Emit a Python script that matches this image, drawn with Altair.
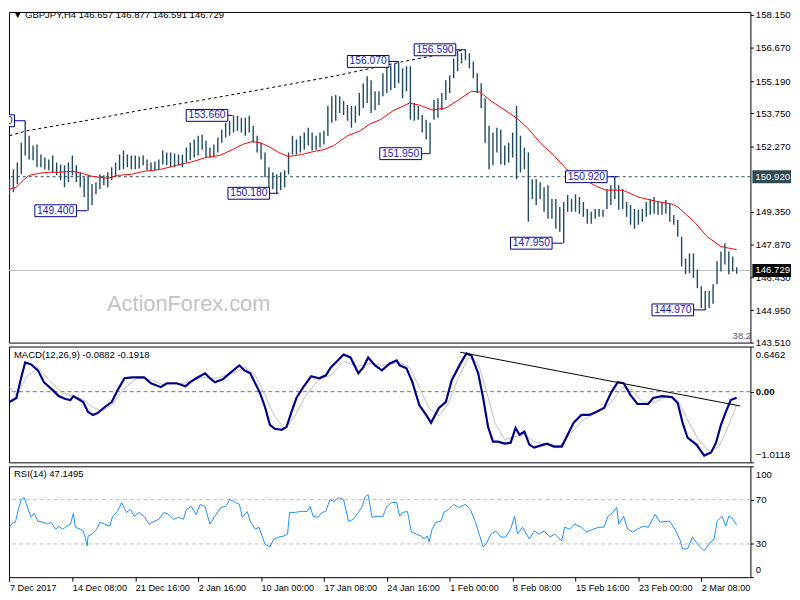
import altair as alt
import pandas as pd

# ---------------- data ----------------
bar_high = [150.81,151.25,151.56,152.44,153.42,152.75,152.31,152.36,151.91,151.78,
            151.69,151.87,151.56,151.47,151.43,151.56,151.87,151.43,151.12,150.90,
            150.98,150.59,150.67,151.03,150.98,151.12,151.34,151.56,151.91,152.09,
            151.91,151.87,151.87,151.82,151.87,151.69,151.56,151.60,151.69,152.09,
            152.00,152.00,151.96,151.91,151.91,152.22,152.44,152.58,152.75,152.80,
            152.53,152.22,152.36,152.67,153.02,153.33,153.42,153.66,153.64,153.55,
            153.55,153.64,153.20,152.75,152.44,152.00,151.34,151.12,151.03,151.12,
            151.21,152.00,152.75,152.58,152.75,152.89,153.11,152.89,152.75,152.89,
            152.97,154.08,154.52,154.57,154.52,154.30,154.12,154.08,154.08,154.66,
            155.10,155.41,155.23,154.74,154.74,155.54,155.85,155.89,155.98,156.07,
            155.76,155.85,155.85,154.21,154.08,153.68,153.46,153.33,154.35,154.43,
            154.66,155.23,155.45,156.20,156.56,156.43,156.59,156.43,156.07,155.54,
            155.10,154.43,153.20,152.89,153.11,153.02,152.31,152.44,152.89,154.08,
            152.75,152.22,152.00,150.81,150.81,150.67,150.45,150.54,149.92,149.92,
            149.57,149.79,150.10,149.92,150.14,150.01,149.79,149.48,149.35,149.48,
            149.48,149.44,150.36,150.54,150.92,150.54,150.36,149.79,149.66,149.48,
            149.44,149.48,149.79,149.92,150.01,149.79,149.79,149.88,149.70,149.21,
            148.99,148.24,147.27,147.49,147.49,146.78,146.03,145.81,145.81,146.12,
            147.14,147.58,147.95,147.58,147.36,146.88]
bar_low = [150.14,150.23,150.59,151.03,151.87,151.69,151.65,151.34,151.34,151.25,
           151.21,151.12,150.98,150.76,150.45,150.68,150.98,150.68,150.45,150.01,
           149.40,149.66,150.14,150.37,150.54,150.45,150.76,150.90,151.21,151.25,
           151.34,151.25,151.25,151.29,151.43,151.21,151.21,151.21,151.25,151.47,
           151.43,151.34,151.34,151.43,151.34,151.56,151.65,151.78,151.87,152.13,
           151.78,151.78,151.78,152.00,152.44,152.67,152.75,152.89,152.97,152.89,
           152.75,152.89,152.44,152.00,151.69,150.90,150.23,150.37,150.18,150.32,
           150.45,151.03,151.91,151.91,152.00,152.13,152.31,152.09,152.13,152.22,
           152.36,152.75,153.33,153.42,153.77,153.68,153.42,153.11,153.33,153.64,
           153.99,154.21,153.77,153.90,154.12,154.52,154.66,154.79,154.88,155.10,
           154.43,154.74,153.46,153.42,153.46,152.89,152.58,151.95,153.46,153.55,
           153.90,154.35,154.66,155.32,155.63,155.98,156.12,155.76,155.32,154.66,
           153.99,152.44,151.25,151.43,152.00,151.47,151.43,151.56,151.78,150.81,
           151.12,151.25,148.91,149.92,149.66,149.92,149.35,149.04,149.04,148.60,
           148.46,147.95,149.35,149.35,149.35,149.26,149.13,148.82,148.82,149.04,
           149.13,149.13,149.48,149.66,149.92,149.44,149.48,149.13,148.77,148.60,
           148.77,148.91,149.13,149.22,149.26,149.22,149.22,149.26,148.91,148.77,
           148.24,146.91,146.56,146.61,146.39,145.94,145.06,144.97,145.06,145.24,
           146.12,146.69,147.00,146.56,146.69,146.59]
bar_idx = list(range(0, 2 * len(bar_high), 2))

ma_idx = [0,3.5,7,10,15,20,25,32,37,42,45,50,55,62,68.5,77,85,93.5,100,107,
          113.5,118.5,123.5,127.5,132,137,142,148.5,155,160,165,172,178.5,183.5,188.5,195,203.5,208.5,215,222,
          228.5,235,239.5,245,252,258.5,263.5,270,277,283.5,292,298.5,303.5,312,320,328.5,337,340,348.5,355,
          362,367,370]
ma_val = [150.36,150.45,150.76,150.98,151.07,151.12,151.12,151.16,151.07,150.94,
          150.90,150.85,150.98,151.03,151.16,151.25,151.43,151.60,151.78,151.87,
          152.13,152.36,152.49,152.44,152.27,152.00,151.82,151.91,152.05,152.13,
          152.31,152.75,152.97,153.28,153.46,153.86,154.21,154.12,153.90,153.99,
          154.35,154.74,154.70,154.30,153.90,153.51,153.11,152.44,151.87,151.25,
          150.81,150.50,150.32,150.32,150.01,149.83,149.70,149.57,148.90,148.24,
          147.80,147.71,147.67]

long_idx = [0, 8.5, 38.5, 65, 98.5, 132, 165, 198.5, 213.5, 227, 232]
long_val = [152.75, 152.97, 153.42, 153.86, 154.35, 154.88, 155.41, 156.03, 156.29, 156.51, 156.60]

lbl_text = ["153.420","153.660","149.400","150.180","156.070","151.950","156.590","147.950","150.920","144.970"]
lbl_price = [153.42,153.66,149.40,150.18,156.07,151.95,156.59,147.95,150.92,144.97]
lbl_box_i = [-8, 100.5, 23.5, 121.75, 182.5, 199, 216.5, 265.5, 293.5, 337.5]
lbl_bar_i = [8, 113.5, 39.5, 137, 198, 214, 232, 281.5, 309.5, 354]

price_ticks = [158.15,156.67,155.19,153.75,152.27,149.35,147.87,146.43,144.95,143.51]
mark_levels = [150.92, 146.729]
mark_texts = ["150.920", "146.729"]
mark_fill = ["#2e4a52", "#000000"]

macd_idx = [0,3.5,6,8,11,14.5,17.5,22,25,28.5,
            31,32.5,35,37.5,40,42.5,45,48.5,52,55,
            58.5,62.5,68.5,72,77,80,85,89.5,92,95,
            99.5,102,104.5,108.5,112,117,119.5,122.5,125,127.5,
            130,132.5,135,138.5,141,143.5,146,149.5,153.5,157.5,
            161,163.5,167,170,173.5,177.5,180,182.5,186,189.5,
            193.5,197,198.5,202,205,208.5,212,214.5,218.5,222,
            225,229.5,232.5,235,238.5,241,243.5,246,248.5,252,
            255,257.5,259.5,262,264.5,267,270,273.5,277,281,
            283.5,287,291,295,298.5,302.5,306,309.5,312.5,316,
            319.5,325,327.5,332,337,340,342.5,345,349.5,353.5,
            357,359.5,362,364.5,367,370]
macd_val = [-0.148,-0.091,0.206,0.419,0.391,0.306,0.136,0.022,-0.063,-0.105,
            -0.120,-0.063,-0.105,-0.148,-0.290,-0.333,-0.304,-0.219,-0.148,0.022,
            0.192,0.206,0.206,0.121,0.065,0.121,0.121,0.079,0.136,0.192,
            0.263,0.192,0.136,0.178,0.263,0.377,0.306,0.263,0.121,-0.020,
            -0.219,-0.474,-0.531,-0.545,-0.503,-0.290,-0.091,0.065,0.221,0.192,
            0.235,0.348,0.448,0.533,0.490,0.263,0.348,0.490,0.377,0.306,
            0.405,0.448,0.377,0.334,0.136,-0.191,-0.333,-0.446,-0.233,-0.148,
            0.164,0.405,0.547,0.519,0.263,-0.091,-0.503,-0.715,-0.715,-0.744,
            -0.730,-0.517,-0.616,-0.573,-0.758,-0.801,-0.772,-0.744,-0.786,-0.786,
            -0.644,-0.446,-0.333,-0.333,-0.290,-0.233,-0.020,0.136,0.121,-0.049,
            -0.176,-0.176,-0.091,-0.063,-0.077,-0.162,-0.446,-0.659,-0.758,-0.914,
            -0.871,-0.730,-0.474,-0.290,-0.120,-0.088]

sig_idx = [0,3.5,8.5,14.5,20,27,37,42,47,52,
           58.5,65,72,78.5,88.5,98.5,105,113.5,120,125,
           130,135,140,145,150,157,163.5,170,177,183.5,
           190,198.5,203.5,208.5,213.5,218.5,223.5,228.5,233.5,238.5,
           242.5,247,252,257,262,267,273.5,280,285,292,
           298.5,305,312,317,322,328.5,335,340,345,350,
           356,361,365,370]
sig_val = [0.065,-0.049,0.206,0.348,0.164,-0.020,-0.105,-0.219,-0.276,-0.191,
           0.050,0.192,0.178,0.093,0.121,0.206,0.192,0.263,0.348,0.235,
           -0.049,-0.361,-0.531,-0.361,-0.091,0.164,0.235,0.433,0.362,0.405,
           0.377,0.419,0.348,0.065,-0.233,-0.347,-0.162,0.206,0.490,0.405,
           0.022,-0.446,-0.687,-0.644,-0.616,-0.715,-0.758,-0.772,-0.616,-0.404,
           -0.304,-0.191,0.065,0.022,-0.148,-0.148,-0.063,-0.120,-0.404,-0.659,
           -0.857,-0.786,-0.545,-0.192]

macd_trend_idx = [229.3, 371.8]
macd_trend_val = [0.565, -0.205]
macd_ticks = [0.6462, 0.0, -1.0118]

rsi_idx = [0,2,3,4.5,6,7.5,9.5,11,12.5,14.5,
           17,19.5,21,23.5,25,27,28.5,31,32.5,33.5,
           36,37.5,38.5,39.5,40,42,44.5,46,48.5,51,
           52.5,55,57,59.5,61.5,63.5,66,68.5,71,73.5,
           76,78.5,81,83.5,86,88.5,90,92.5,95,97,
           99.5,102,104.5,107.5,110,112,114.5,117,118.5,121,
           122.5,125,127,128.5,130,132.5,134.5,137,139.5,141.5,
           142.5,145,148.5,151.5,153,154.5,157,159,161,163,
           165,167.5,170,172.5,175,177.5,179.5,181,182.5,184.5,
           187,190,192,194.5,197,198.5,200,202.5,204.5,207,
           209.5,211,212.5,213.5,215,217,219.5,221,223.5,226,
           228.5,232,234.5,237,238.5,241,242.5,245,247.5,250,
           252.5,255,257,258.5,261,264.5,267,269.5,272,275,
           277.5,281,282.5,285,287.5,291,293.5,297,300,302.5,
           304.5,307,309,310,312.5,314.5,317,319.5,322.5,325,
           328.5,331,333.5,336,338.5,341,342.5,345,347.5,350,
           353.5,356,358.5,360,362.5,364.5,366,367.5,370]
rsi_val = [45.1,49.6,49.6,61.1,70.0,71.8,61.1,54.0,57.6,50.4,
           49.6,47.8,49.6,43.3,46.0,43.3,45.1,47.8,57.6,45.1,
           43.3,41.6,36.2,28.2,37.1,38.9,43.3,49.6,47.8,46.0,
           54.9,59.3,67.3,58.4,61.1,54.9,58.4,54.9,47.8,50.4,
           52.2,58.4,56.7,52.2,54.0,52.2,61.1,63.8,56.7,65.6,
           63.8,47.8,54.9,62.9,63.8,70.0,68.2,65.6,54.0,59.3,
           50.4,43.3,45.1,37.1,30.0,27.3,34.4,36.2,37.1,38.9,
           58.4,58.4,59.3,59.3,63.8,54.9,54.0,58.4,59.3,70.0,
           68.2,71.8,70.0,50.4,52.2,58.4,63.8,72.7,74.4,54.0,
           54.9,54.9,63.8,67.3,67.3,54.9,58.4,59.3,40.7,38.9,
           37.1,34.4,37.1,31.8,43.3,49.6,50.4,58.4,61.1,65.6,
           62.9,65.6,61.1,50.4,41.6,27.3,30.0,38.9,41.6,36.2,
           36.2,43.3,54.9,38.9,45.1,34.4,41.6,38.9,41.6,36.2,
           38.9,32.7,45.1,43.3,47.8,45.1,40.7,43.3,45.1,45.1,
           54.9,58.4,62.9,47.8,54.9,43.3,40.7,43.3,46.0,45.1,
           56.7,49.6,50.4,50.4,43.3,34.4,25.6,25.6,36.2,30.0,
           23.8,30.0,34.4,50.4,54.9,46.0,54.9,54.0,47.1]
rsi_levels = [70, 30]
rsi_ticks = [100, 70, 30, 0]

x_tick_idx = [0, 32, 64, 96, 128, 160, 192, 224, 256, 288, 320, 352]
x_tick_lbl = ["7 Dec 2017", "14 Dec 08:00", "21 Dec 16:00", "2 Jan 16:00", "10 Jan 00:00",
              "17 Jan 08:00", "24 Jan 16:00", "1 Feb 00:00", "8 Feb 08:00", "15 Feb 16:00",
              "23 Feb 00:00", "2 Mar 08:00"]

title_txt = "\u25bc GBPJPY,H4  146.657 146.877 146.591 146.729"
macd_txt = "MACD(12,26,9) -0.0882 -0.1918"
rsi_txt = "RSI(14) 47.1495"

# ---------------- styling ----------------
W = 749
H1, H2, H3 = 334, 117, 112
FONT = "Liberation Sans"
BAR_C = "#1d4a60"
NAVY = "#00008b"
LBL_C = "#1c1cb0"
TXT_SIZE = 9.6

xS = alt.Scale(domain=[-0.25, 377], nice=False, zero=False)
yP = alt.Scale(domain=[143.51, 158.28], nice=False, zero=False)
yM = alt.Scale(domain=[-1.0118, 0.6462], nice=False, zero=False)
yR = alt.Scale(domain=[0, 100], nice=False, zero=False)
X = alt.X("i:Q", scale=xS, axis=None)

# ---------------- main price panel ----------------
price_axis = alt.Axis(orient="right", values=price_ticks, format=".3f", grid=False,
                      domain=False, tickSize=3, labelPadding=2, title=None)


def PYf(field):
    return alt.Y(field, scale=yP, axis=price_axis)


df_bars = pd.DataFrame({"i": bar_idx, "hi": bar_high, "lo": bar_low})

lvl_dash = alt.Chart(pd.DataFrame({"v": [mark_levels[0]]})).mark_rule(
    color="#2f4f4f", strokeDash=[3, 3], strokeWidth=1).encode(y=PYf("v:Q"))
lvl_cur = alt.Chart(pd.DataFrame({"v": [mark_levels[1]]})).mark_rule(
    color="#c0c0c0", strokeWidth=1).encode(y=PYf("v:Q"))

bars = alt.Chart(df_bars).mark_rule(color=BAR_C, strokeWidth=1.4, clip=True).encode(
    x=X, y=PYf("hi:Q"), y2="lo:Q")

ma = alt.Chart(pd.DataFrame({"i": ma_idx, "v": ma_val})).mark_line(
    color="#ff0000", strokeWidth=1, clip=True).encode(x=X, y=PYf("v:Q"))

longma = alt.Chart(pd.DataFrame({"i": long_idx, "v": long_val})).mark_line(
    color="black", strokeWidth=1, strokeDash=[3, 3], clip=True).encode(x=X, y=PYf("v:Q"))

df_lbl = pd.DataFrame({"t": lbl_text, "p": lbl_price, "bx": lbl_box_i, "ax": lbl_bar_i})
BX = alt.X("bx:Q", scale=xS, axis=None)
conn = alt.Chart(df_lbl).mark_rule(color=NAVY, strokeWidth=1, xOffset=21, clip=True).encode(
    x=BX, x2="ax:Q", y=PYf("p:Q"))
boxes = alt.Chart(df_lbl).mark_rect(fill="white", stroke=NAVY, strokeWidth=1,
                                    xOffset=-21, x2Offset=21, yOffset=-6, y2Offset=6,
                                    clip=True).encode(x=BX, x2="bx:Q", y=PYf("p:Q"), y2="p:Q")
btxt = alt.Chart(df_lbl).mark_text(font=FONT, fontSize=10.4, color=LBL_C, clip=True).encode(
    x=BX, y=PYf("p:Q"), text="t:N")

df_hl = pd.DataFrame({"v": mark_levels, "t": mark_texts, "c": mark_fill})
hl_box = alt.Chart(df_hl).mark_rect(yOffset=-6.5, y2Offset=6.5).encode(
    x=alt.value(W + 2), x2=alt.value(W + 41),
    y=PYf("v:Q"), y2="v:Q",
    fill=alt.Fill("c:N", scale=None))
hl_txt = alt.Chart(df_hl).mark_text(align="left", baseline="middle", font=FONT,
                                    fontSize=9.7, color="white").encode(
    x=alt.value(W + 5), y=PYf("v:Q"), text="t:N")

title = alt.Chart(pd.DataFrame({"t": [title_txt]})).mark_text(
    align="left", baseline="middle", font=FONT, fontSize=TXT_SIZE, color="black").encode(
    x=alt.value(4), y=alt.value(3), text="t:N")
water = alt.Chart(pd.DataFrame({"t": ["ActionForex.com"]})).mark_text(
    align="left", baseline="middle", font=FONT, fontSize=22, color="#c4c4c4").encode(
    x=alt.value(99), y=alt.value(295), text="t:N")
fib = alt.Chart(pd.DataFrame({"t": ["38.2"]})).mark_text(
    align="left", baseline="middle", font=FONT, fontSize=TXT_SIZE, color="#4a5a70").encode(
    x=alt.value(731), y=alt.value(327), text="t:N")

main = alt.layer(lvl_dash, lvl_cur, water, bars, ma, longma, conn, boxes, btxt,
                 title, fib, hl_box, hl_txt).properties(width=W, height=H1)

# ---------------- MACD panel ----------------
macd_axis = alt.Axis(orient="right", values=macd_ticks, grid=False, domain=False,
                     tickSize=3, labelPadding=2, title=None, labelFlush=True,
                     labelFlushOffset=-3,
                     labelExpr="datum.value == 0 ? '0.00' : format(datum.value, '.4f')",
                     labelFontWeight=alt.condition("datum.value == 0", alt.value("bold"), alt.value("normal")))


def MYf(field):
    return alt.Y(field, scale=yM, axis=macd_axis)


m_zero = alt.Chart(pd.DataFrame({"v": [0.0]})).mark_rule(
    color="#707070", strokeDash=[4, 3], strokeWidth=1).encode(y=MYf("v:Q"))
m_sig = alt.Chart(pd.DataFrame({"i": sig_idx, "v": sig_val})).mark_line(
    color="#c0c0c0", strokeWidth=1, clip=True).encode(x=X, y=MYf("v:Q"))
m_line = alt.Chart(pd.DataFrame({"i": macd_idx, "v": macd_val})).mark_line(
    color=NAVY, strokeWidth=2.2, clip=True).encode(x=X, y=MYf("v:Q"))
m_tr = alt.Chart(pd.DataFrame({"i": macd_trend_idx, "v": macd_trend_val})).mark_line(
    color="black", strokeWidth=1, clip=True).encode(x=X, y=MYf("v:Q"))
m_lbl = alt.Chart(pd.DataFrame({"t": [macd_txt]})).mark_text(
    align="left", baseline="middle", font=FONT, fontSize=TXT_SIZE, color="black").encode(
    x=alt.value(5), y=alt.value(9), text="t:N")
macd = alt.layer(m_zero, m_sig, m_line, m_tr, m_lbl).properties(width=W, height=H2)

# ---------------- RSI panel ----------------
lbl_expr = "[" + ",".join("'%s'" % s for s in x_tick_lbl) + "][round(datum.value/32)]"
x_axis = alt.Axis(values=x_tick_idx, labelExpr=lbl_expr, labelAlign="left", labelPadding=2,
                  tickSize=4, domain=False, grid=False, labelOverlap=False, labelFlush=False,
                  title=None, labelFontSize=9.2)
rsi_axis = alt.Axis(orient="right", values=rsi_ticks, grid=False, domain=False, tickSize=3,
                    labelPadding=2, title=None, labelFlush=True, labelFlushOffset=-3)


def RYf(field):
    return alt.Y(field, scale=yR, axis=rsi_axis)


r_lv = alt.Chart(pd.DataFrame({"v": rsi_levels})).mark_rule(
    color="#c0c0c0", strokeDash=[4, 3], strokeWidth=1).encode(y=RYf("v:Q"))
r_line = alt.Chart(pd.DataFrame({"i": rsi_idx, "v": rsi_val})).mark_line(
    color="#1e90ff", strokeWidth=1, clip=True).encode(
    x=alt.X("i:Q", scale=xS, axis=x_axis), y=RYf("v:Q"))
r_lbl = alt.Chart(pd.DataFrame({"t": [rsi_txt]})).mark_text(
    align="left", baseline="middle", font=FONT, fontSize=TXT_SIZE, color="black").encode(
    x=alt.value(5), y=alt.value(8), text="t:N")
rsi = alt.layer(r_lv, r_line, r_lbl).properties(width=W, height=H3)

chart = alt.vconcat(main, macd, rsi, spacing=4, bounds="flush").properties(
    padding={"left": 0, "top": -2, "right": 0, "bottom": 0}, background="white"
).configure_axis(
    labelFont=FONT, labelFontSize=9.7, labelColor="black", tickColor="black"
).configure_view(stroke="black", strokeWidth=1)

chart.save("out.html", embed_options={"renderer": "svg", "actions": False})
